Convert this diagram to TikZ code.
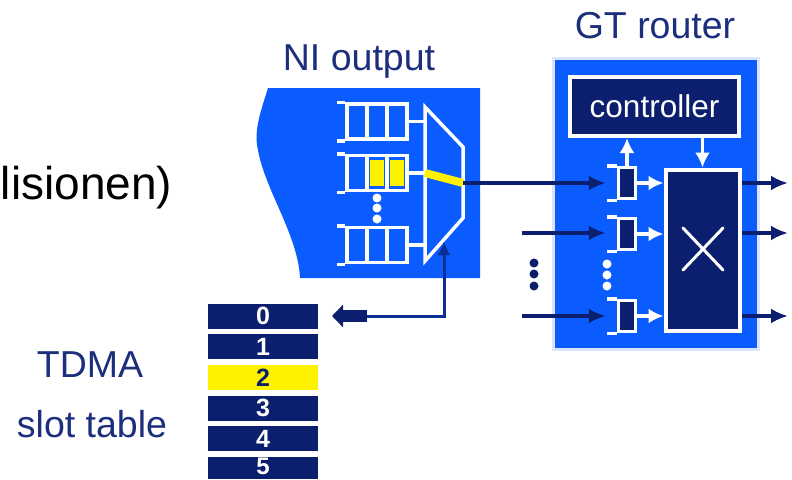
\documentclass[tikz,border=0pt]{standalone}
\usepackage{fontspec}
\setmainfont{Liberation Sans}
\usetikzlibrary{arrows.meta}
\definecolor{niblue}{HTML}{0A5CFF}
\definecolor{navy}{HTML}{0B1F6E}
\definecolor{halo}{HTML}{DDE2FF}
\definecolor{labelblue}{HTML}{1C2F7C}
\tikzset{
  caption/.style={anchor=base,inner sep=0pt,text=labelblue,font=\fontsize{37.5}{40}\selectfont},
  cell/.style={draw=white,line width=3.5pt,minimum width=20pt,minimum height=35pt,inner sep=0pt},
  bufcell/.style={draw=white,line width=3.5pt,fill=navy,minimum width=17pt,minimum height=31pt,inner sep=0pt},
  filled/.style={fill=yellow,minimum width=14pt,minimum height=26pt,inner sep=0pt},
  slot/.style={fill=navy,text=white,minimum width=110pt,minimum height=25pt,inner sep=0pt,font=\bfseries\fontsize{25}{25}\selectfont},
  wire/.style={draw=white,line width=3.5pt},
  whitearrow/.style={draw=white,line width=3.5pt,-{Latex[length=15pt,width=15pt]}},
  darkarrow/.style={draw=navy,line width=3.5pt,-{Latex[length=17pt,width=15pt]}},
  whitedot/.style={circle,fill=white,minimum size=9pt,inner sep=0pt},
  darkdot/.style={circle,fill=navy,minimum size=9pt,inner sep=0pt}
}
\begin{document}
\begin{tikzpicture}[x=1pt,y=-1pt]
  \useasboundingbox (0,0) rectangle (792,479);
  % labels
  \node[anchor=base east,inner sep=0pt,font=\fontsize{46}{48}\selectfont] (kollision) at (172.5,199) {lisionen)};
  \node[caption] (nilabel) at (359,70) {NI output};
  \node[caption] (gtlabel) at (655,38) {GT router};
  \node[caption] (tdma) at (90,377) {TDMA};
  \node[caption] (slotlabel) at (92,437) {slot table};
  % NI output
  \fill[niblue] (268,88) -- (480,88) -- (480,278) -- (300,278)
    .. controls (298,235) and (265,190) .. (258,150)
    .. controls (253,130) and (262,108) .. (268,88) -- cycle;
  \node[cell] (a1) at (357,121.5) {};
  \node[cell] (a2) at (377,121.5) {};
  \node[cell] (a3) at (397,121.5) {};
  \node[cell] (b1) at (357,173) {};
  \node[cell] (b2) at (377,173) {};
  \node[cell] (b3) at (397,173) {};
  \node[filled] (b2y) at (377,173) {};
  \node[filled] (b3y) at (397,173) {};
  \node[cell] (c1) at (357,245) {};
  \node[cell] (c2) at (377,245) {};
  \node[cell] (c3) at (397,245) {};
  \draw[wire] (a1.north west) -- ++(-8,0);
  \draw[wire] (a1.south west) -- ++(-8,0);
  \draw[wire] (b1.north west) -- ++(-8,0);
  \draw[wire] (b1.south west) -- ++(-8,0);
  \draw[wire] (c1.north west) -- ++(-8,0);
  \draw[wire] (c1.south west) -- ++(-8,0);
  \node[whitedot] (w1) at (377,198) {};
  \node[whitedot] (w2) at (377,208) {};
  \node[whitedot] (w3) at (377,219) {};
  % mux
  \coordinate (muxin) at (425,173);
  \coordinate (muxout) at (463,183);
  \coordinate (muxsel) at (444,241);
  \draw[wire,line join=miter] (425,107) -- (463,147) -- (463,218) -- (425,261) -- cycle;
  \draw[wire] (a3.east) -- (425,121.5);
  \draw[wire] (b3.east) -- (muxin);
  \draw[wire] (c3.east) -- (425,245);
  \draw[yellow,line width=8pt] (muxin) -- (muxout);
  % GT router
  \fill[niblue,draw=halo,line width=3pt] (553,58) rectangle (758,349);
  \node[draw=white,line width=4pt,fill=navy,text=white,minimum width=169pt,minimum height=59pt,inner sep=0pt,font=\fontsize{31.5}{32}\selectfont] (controller) at (654.5,106.5) {controller};
  \node[draw=white,line width=4pt,fill=navy,minimum width=74pt,minimum height=161pt,inner sep=0pt] (xbar) at (702.5,250) {};
  \draw[white,line width=3pt,line cap=round] (683,228) -- (723,270);
  \draw[white,line width=3pt,line cap=round] (723,228) -- (683,270);
  \node[bufcell] (buf1) at (627,183) {};
  \node[bufcell] (buf2) at (627,234) {};
  \node[bufcell] (buf3) at (627,316) {};
  \draw[wire] (buf1.north west) -- ++(-10,0);
  \draw[wire] (buf1.south west) -- ++(-10,0);
  \draw[wire] (buf2.north west) -- ++(-10,0);
  \draw[wire] (buf2.south west) -- ++(-10,0);
  \draw[wire] (buf3.north west) -- ++(-10,0);
  \draw[wire] (buf3.south west) -- ++(-10,0);
  \node[whitedot] (v1) at (607,264) {};
  \node[whitedot] (v2) at (607,275) {};
  \node[whitedot] (v3) at (607,286) {};
  \node[darkdot] (d1) at (534,263) {};
  \node[darkdot] (d2) at (534,274) {};
  \node[darkdot] (d3) at (534,286) {};
  % arrows inside the router
  \draw[whitearrow] (buf1.east) -- (buf1.east -| xbar.west);
  \draw[whitearrow] (buf2.east) -- (buf2.east -| xbar.west);
  \draw[whitearrow] (buf3.east) -- (buf3.east -| xbar.west);
  \draw[whitearrow] (buf1.north) -- (buf1.north |- controller.south);
  \draw[whitearrow] (controller.south -| xbar.north) -- (xbar.north);
  % links
  \coordinate (in2) at (522,233);
  \coordinate (in3) at (522,316);
  \coordinate (out1) at (788,183);
  \coordinate (out2) at (788,233);
  \coordinate (out3) at (788,316);
  \draw[darkarrow,shorten >=11pt] (muxout) -- (buf1.west);
  \draw[darkarrow,shorten >=11pt] (in2) -- (in2 -| buf2.west);
  \draw[darkarrow,shorten >=11pt] (in3) -- (in3 -| buf3.west);
  \draw[darkarrow] (xbar.east |- out1) -- (out1);
  \draw[darkarrow] (xbar.east |- out2) -- (out2);
  \draw[darkarrow] (xbar.east |- out3) -- (out3);
  % slot table
  \node[slot] (s0) at (263,316) {0};
  \node[slot] (s1) at (263,346.5) {1};
  \node[slot,fill=yellow,text=navy] (s2) at (263,377.5) {2};
  \node[slot] (s3) at (263,408) {3};
  \node[slot] (s4) at (263,438.5) {4};
  \fill[navy] (208,457) rectangle (318,479);
  \node[slot,fill=none,minimum height=18pt,font=\bfseries\fontsize{24}{24}\selectfont] (s5) at (263,466.5) {5};
  \coordinate (selcorner) at (444,316);
  \coordinate (fattail) at (367,316);
  \coordinate (fattip) at (332,316);
  \draw[navy!75!niblue,line width=3pt,-{Latex[length=14pt,width=13pt]}] (fattail) -- (selcorner) -- (muxsel);
  \draw[navy,line width=12pt,-{Triangle[length=11pt,width=22pt]}] (fattail) -- (fattip);
\end{tikzpicture}
\end{document}
